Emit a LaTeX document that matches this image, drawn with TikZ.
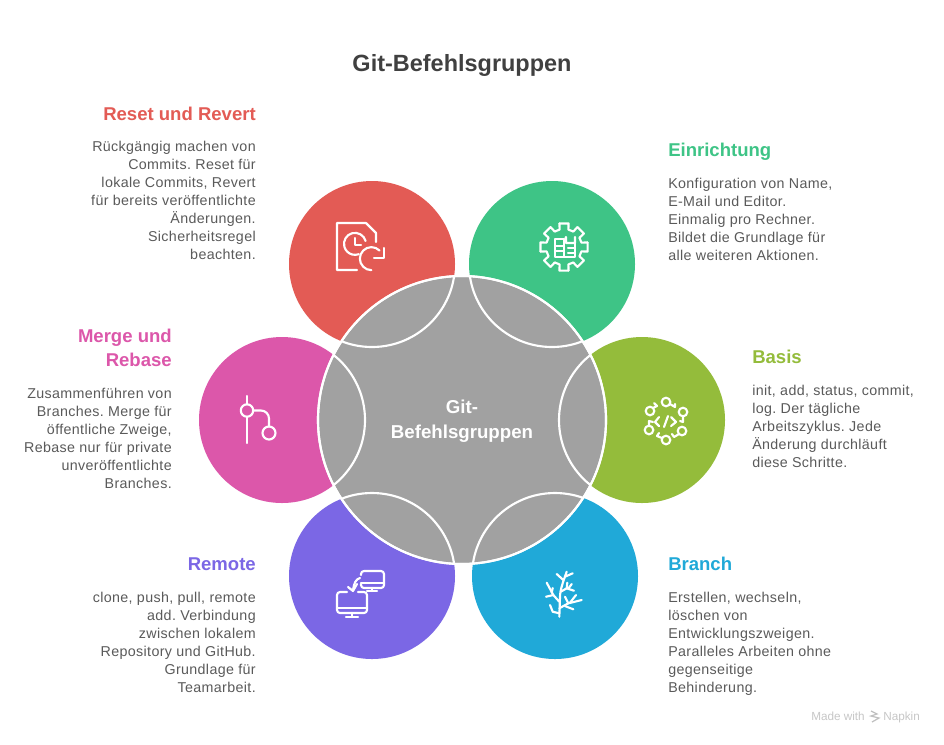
\documentclass[tikz,border=0pt]{standalone}
\usepackage{fontspec}
\setmainfont{Liberation Sans}
\newfontfamily\bodyfam[LetterSpace=2.5]{Liberation Sans}
\frenchspacing
\definecolor{cRed}{HTML}{E35B55}
\definecolor{cGreen}{HTML}{3EC486}
\definecolor{cLime}{HTML}{94BC3B}
\definecolor{cBlue}{HTML}{20A9D8}
\definecolor{cPurple}{HTML}{7B67E5}
\definecolor{cPink}{HTML}{DC57AA}
\definecolor{cGray}{HTML}{A1A1A1}
\definecolor{cBody}{HTML}{5A5A5A}
\definecolor{cTitle}{HTML}{404040}
\tikzset{
  petal/.style={circle,minimum size=124.5pt,inner sep=0pt},
  hub/.style={circle,minimum size=216pt,inner sep=0pt,fill=cGray,draw=white,line width=1.6pt},
  ring/.style={draw=white,line width=1.6pt},
  ico/.style={draw=white,line width=1.6pt,line cap=round,line join=round},
  heading/.style={inner sep=0pt,font=\fontsize{13.9pt}{18pt}\selectfont\bfseries},
  bodyl/.style={inner sep=0pt,anchor=north west,align=left,text=cBody,font=\bodyfam\fontsize{10.7pt}{13.5pt}\selectfont},
  bodyr/.style={inner sep=0pt,anchor=north east,align=right,text=cBody,font=\bodyfam\fontsize{10.7pt}{13.5pt}\selectfont},
  wmark/.style={inner sep=0pt,text=black!22,font=\fontsize{8.8pt}{10pt}\selectfont}
}
\begin{document}
\begin{tikzpicture}[x=0.75pt,y=-0.75pt]
\useasboundingbox (0,0) rectangle (944,744);
\fill[white] (0,0) rectangle (944,744);
% petals
\node[petal,fill=cRed] (pred) at (372,264) {};
\node[petal,fill=cGreen] (pgreen) at (552,264) {};
\node[petal,fill=cPink] (ppink) at (282,420) {};
\node[petal,fill=cLime] (plime) at (642,420) {};
\node[petal,fill=cPurple] (ppurple) at (372,576) {};
\node[petal,fill=cBlue] (pblue) at (555,576) {};
% hub
\node[hub] (hub) at (462,420) {};
\begin{scope}
\clip (462,420) circle [radius=144];
\foreach \p in {(372,264),(552,264),(282,420),(642,420),(372,576),(555,576)}
  \draw[ring] \p circle [radius=83];
\end{scope}
\draw[white,line width=1.6pt] (462,420) circle [radius=144];
% title and centre
\node[inner sep=0pt,anchor=base,text=cTitle,font=\fontsize{17.6pt}{22pt}\selectfont\bfseries] (title) at (462,71) {Git-Befehlsgruppen};
\node[inner sep=0pt,text=white,align=center,font=\fontsize{14pt}{18.7pt}\selectfont\bfseries] (hublabel) at (462,421) {Git-\\Befehlsgruppen};
% headings
\node[heading,text=cRed,anchor=base east] (h1) at (256,120.5) {Reset und Revert};
\node[heading,text=cGreen,anchor=base west] (h2) at (668,156) {Einrichtung};
\node[heading,text=cPink,anchor=north east,align=right] (h3) at (172,329) {Merge und\\Rebase};
\node[heading,text=cLime,anchor=base west] (h4) at (752,363) {Basis};
\node[heading,text=cPurple,anchor=base east] (h5) at (256,570) {Remote};
\node[heading,text=cBlue,anchor=base west] (h6) at (668,570) {Branch};
% bodies
\node[bodyr] (b1) at (256,141) {Rückgängig machen von\\Commits. Reset für\\lokale Commits, Revert\\für bereits veröffentlichte\\Änderungen.\\Sicherheitsregel\\beachten.};
\node[bodyl] (b2) at (668,178) {Konfiguration von Name,\\E-Mail und Editor.\\Einmalig pro Rechner.\\Bildet die Grundlage für\\alle weiteren Aktionen.};
\node[bodyr] (b3) at (172,388) {Zusammenführen von\\Branches. Merge für\\öffentliche Zweige,\\Rebase nur für private\\unveröffentlichte\\Branches.};
\node[bodyl] (b4) at (752,385) {init, add, status, commit,\\log. Der tägliche\\Arbeitszyklus. Jede\\Änderung durchläuft\\diese Schritte.};
\node[bodyr] (b5) at (256,592) {clone, push, pull, remote\\add. Verbindung\\zwischen lokalem\\Repository und GitHub.\\Grundlage für\\Teamarbeit.};
\node[bodyl] (b6) at (668,592) {Erstellen, wechseln,\\löschen von\\Entwicklungszweigen.\\Paralleles Arbeiten ohne\\gegenseitige\\Behinderung.};
% watermark
\node[wmark,anchor=base west] (m1) at (811,720) {Made with};
\node[wmark,anchor=base west] (m2) at (883,720) {Napkin};
\draw[black!25,line width=0.9pt] (871,711)--(877,714)--(871,716)--(879,718)--(872,722);
% reset icon
\draw[ico] (357,270)--(337,270)--(337,223)--(366,223)--(376,233)--(376,242);
\draw[ico] (365.6,241) arc [start angle=-15,end angle=-290,radius=11];
\draw[ico] (355,238)--(355,245)--(361,245);
\draw[ico] (379.5,250.5) arc [start angle=-45,end angle=-270,radius=11.5];
\draw[ico] (384,248)--(384,258)--(374,258);
% gear icon
\begin{scope}[shift={(564,247)}]
\foreach \a in {0,45,...,315}
  \draw[ico] (\a-11:24)--(\a+11:24)--(\a+14:18)--(\a+31:18)--(\a+34:24);
\draw[ico] (-9,-8)--(0,-8)--(0,10)--(-9,10)--cycle;
\draw[ico] (0,-5)--(2,-10)--(2,-4)--(11,-4)--(11,-10);
\draw[ico] (0,10)--(11,10)--(11,-4);
\draw[ico] (-9,-1)--(0,-1);
\draw[ico] (-9,4)--(0,4);
\draw[ico] (4,1)--(11,1);
\draw[ico] (4,6)--(11,6);
\end{scope}
% basis icon
\foreach \p in {(666,402),(683,412),(682,431),(666,440),(649,430),(650,411)}
  \draw[ico] \p circle [radius=4.3];
\draw[ico] (670,404)--(675,407)--(675,404);
\draw[ico] (683,416)--(683,422)--(680,421);
\draw[ico] (679,434)--(674,437)--(672,434);
\draw[ico] (662,438)--(657,436)--(659,433);
\draw[ico] (649,426)--(649,421)--(653,422);
\draw[ico] (653,408)--(657,406)--(654,403);
\draw[ico] (659,417)--(655,422)--(659,426);
\draw[ico] (668,416)--(664,427);
\draw[ico] (671,417)--(676,422)--(671,426);
% merge icon
\draw[ico] (247,396)--(247,404);
\draw[ico] (247,417)--(247,443);
\draw[ico] (247,410.5) circle [radius=6.2];
\draw[ico] (269,433) circle [radius=6.5];
\draw[ico] (253,410.5)--(261,410.5) arc [start angle=-90,end angle=0,radius=8]--(269,426);
% remote icon
\draw[ico] (361,575) -- (361,574) arc [start angle=180,end angle=270,radius=3]--(381,571) arc [start angle=-90,end angle=0,radius=3]--(384,585) arc [start angle=0,end angle=90,radius=3]--(364,588) arc [start angle=90,end angle=180,radius=3]--(361,584);
\draw[ico] (361,583)--(384,583);
\draw[ico] (372,588)--(372,591);
\draw[ico] (367,591)--(377,591);
\draw[ico] (347,592)--(340,592) arc [start angle=-90,end angle=-180,radius=3]--(337,610) arc [start angle=180,end angle=90,radius=3]--(364,613) arc [start angle=90,end angle=0,radius=3]--(367,595) arc [start angle=0,end angle=-90,radius=3]--(358,592);
\draw[ico] (337,608)--(367,608);
\draw[ico] (352,613)--(352,617);
\draw[ico] (346,617)--(358,617);
\draw[ico] (360,578) .. controls (356,579) and (354,583) .. (353,590);
\draw[ico] (348,587)--(353,591)--(357,584);
% tree icon
\draw[ico] (559.3,616.7)--(560,597) .. controls (560,590) and (563,582) .. (566.7,571.7);
\draw[ico] (563.3,580)--(556.7,574);
\draw[ico] (565.5,576.5)--(572.7,573.3);
\draw[ico] (560.7,591.7)--(566.7,588.3)--(574,590.7);
\draw[ico] (566.7,588.3)--(567.3,582.7);
\draw[ico] (568.3,588.6)--(571.7,584);
\draw[ico] (559.3,608.3)--(568.3,603.3)--(581.7,600);
\draw[ico] (568.3,603.3)--(565,596.7);
\draw[ico] (570,602.7)--(576,595);
\draw[ico] (565,606)--(573.3,609.3);
\draw[ico] (559.3,601.7)--(553.3,595)--(546,596.7);
\draw[ico] (553.3,595)--(546.7,582.7);
\draw[ico] (551.7,592.5)--(552.7,588);
\draw[ico] (559.3,613.3)--(552.7,611.7)--(550,605);
\end{tikzpicture}
\end{document}
